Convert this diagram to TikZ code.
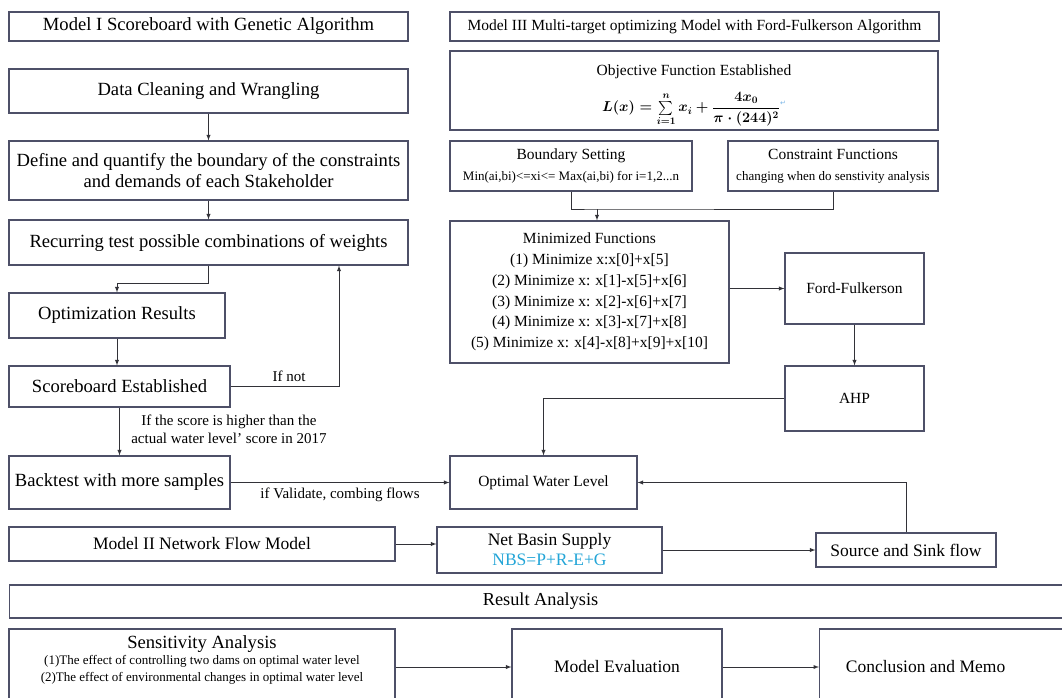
\documentclass[tikz,border=0pt]{standalone}
\usepackage{fontspec}
\setmainfont{Liberation Serif}
\newfontfamily\symfont{DejaVu Sans}
\usepackage{amsmath,amssymb}
\usetikzlibrary{shapes,calc,positioning,arrows}
\definecolor{boxline}{RGB}{78,80,104}
\definecolor{linkline}{RGB}{50,50,56}
\definecolor{nbsblue}{RGB}{35,165,215}
\definecolor{retblue}{RGB}{120,180,230}
\newcommand{\sml}{\fontsize{13}{17}\selectfont}

\begin{document}
\begin{tikzpicture}[x=1pt,y=-1pt,>=latex,
  box/.style={draw=boxline,line width=1.1pt,align=center,inner sep=0pt},
  big/.style={font=\fontsize{18.6}{20.5}\selectfont},
  mid/.style={font=\fontsize{15.5}{20.7}\selectfont},
  note/.style={font=\fontsize{15}{17.5}\selectfont},
  link/.style={draw=linkline,line width=0.9pt}]
\useasboundingbox (0,0) rectangle (1062,698);
\clip (0,0) rectangle (1062,698);

% Model I column
\node[box,big,minimum width=399pt,minimum height=29pt] (modelI) at (208.5,26.5) {Model I Scoreboard with Genetic Algorithm};
\node[box,big,minimum width=399pt,minimum height=44pt] (clean) at (208.5,91) {Data Cleaning and Wrangling};
\node[box,big,minimum width=399pt,minimum height=59pt] (define) at (208.5,170.5) {Define and quantify the boundary of the constraints\\and demands of each Stakeholder};
\node[box,big,minimum width=399pt,minimum height=45pt] (recur) at (208.5,242.5) {Recurring test possible combinations of weights};
\node[box,big,minimum width=216pt,minimum height=45pt] (optres) at (117,315.5) {Optimization Results};
\node[box,big,minimum width=221pt,minimum height=41pt] (score) at (119.5,386.5) {Scoreboard Established};
\node[box,big,minimum width=221pt,minimum height=53pt] (back) at (119.5,482.5) {Backtest with more samples};

% Model III column
\node[box,mid,minimum width=489pt,minimum height=29pt] (modelIII) at (694.5,26.5) {Model III Multi-target optimizing Model with Ford-Fulkerson Algorithm};
\node[box,mid,minimum width=488pt,minimum height=79pt] (objfun) at (694,90.5) {\rule{0pt}{21pt}Objective Function Established\\[12pt]
  {\fontsize{14}{16}\selectfont\boldmath $L(x)=\sum\limits_{i=1}^{n} x_i+\dfrac{4x_0}{\pi\cdot(244)^2}$}{\symfont\fontsize{7}{7}\selectfont\color{retblue}\raisebox{6pt}{↵}}};
\node[box,mid,minimum width=242pt,minimum height=50pt] (bound) at (571,166) {Boundary Setting\\{\sml Min(ai,bi)<=xi<= Max(ai,bi) for i=1,2...n}};
\node[box,mid,minimum width=210pt,minimum height=50pt] (constr) at (833,166) {Constraint Functions\\{\sml changing when do senstivity analysis}};
\node[box,mid,minimum width=279pt,minimum height=142pt] (minfun) at (589.5,292) {Minimized Functions\\(1) Minimize x:x[0]+x[5]\\(2) Minimize x: x[1]-x[5]+x[6]\\(3) Minimize x: x[2]-x[6]+x[7]\\(4) Minimize x: x[3]-x[7]+x[8]\\(5) Minimize x: x[4]-x[8]+x[9]+x[10]};
\node[box,mid,minimum width=139pt,minimum height=71pt] (ford) at (854.5,288.5) {Ford-Fulkerson};
\node[box,mid,minimum width=139pt,minimum height=65pt] (ahp) at (854.5,398.5) {AHP};
\node[box,mid,minimum width=187pt,minimum height=53pt] (owl) at (543.5,482.5) {Optimal Water Level};

% Model II and flows
\node[box,font=\fontsize{17.5}{20}\selectfont,minimum width=386pt,minimum height=34pt] (modelII) at (202,544) {Model II Network Flow Model};
\node[box,font=\fontsize{17.5}{20}\selectfont,minimum width=225pt,minimum height=46pt] (nbs) at (549.5,550) {Net Basin Supply\\{\color{nbsblue}NBS=P+R-E+G}};
\node[box,font=\fontsize{17.5}{20}\selectfont,minimum width=180pt,minimum height=34pt] (sink) at (906,550) {Source and Sink flow};

% Result analysis row
\node[box,font=\fontsize{18.3}{20}\selectfont,anchor=west,minimum height=33pt] (result) at (9,601.5) {\makebox[1062pt]{Result Analysis}\hspace{20pt}};
\node[box,font=\fontsize{13}{16.5}\selectfont,minimum width=386pt,minimum height=76pt] (sens) at (202,667) {{\fontsize{18.6}{20}\selectfont Sensitivity Analysis}\\(1)The effect of controlling two dams on optimal water level\\(2)The effect of environmental changes in optimal water level\\\rule{0pt}{14pt}};
\node[box,font=\fontsize{17.5}{20}\selectfont,minimum width=210pt,minimum height=76pt] (evalm) at (617,667) {Model Evaluation};
\node[box,font=\fontsize{17.5}{20}\selectfont,anchor=west,minimum height=76pt] (memo) at (819,667) {\makebox[212pt]{Conclusion and Memo}\hspace{60pt}};

% Connectors of Model I
\draw[link,->] (clean) -- (define);
\draw[link,->] (define) -- (recur);
\draw[link,->] (recur.south) -- ++(0,18) -| (optres.north);
\draw[link,->] (optres.south) -- (optres.south |- score.north);
\draw[link,->] (score.east) -| ([xshift=130.5pt]recur.south) node[note,pos=0.27,above=1pt] {If not};
\draw[link,->] (score) -- (back) node[note,midway,right=8pt,yshift=2pt,align=center] {If the score is higher than the\\actual water level' score in 2017};
\draw[link,->] (back) -- (owl) node[note,midway,below=2pt] {if Validate, combing flows};

% Connectors of Model III
\coordinate (join) at (597,209);
\draw[link] (bound.south) |- (join) -| (constr.south);
\draw[link,->] (join) -- (join |- minfun.north);
\draw[link,->] (minfun.east |- ford.west) -- (ford.west);
\draw[link,->] (ford) -- (ahp);
\draw[link,->] (ahp.west) -| (owl.north);
\draw[link,->] (sink.north) |- (owl.east);

% Connectors of Model II and results
\draw[link,->] (modelII.east) -- (modelII.east -| nbs.west);
\draw[link,->] (nbs) -- (sink);
\draw[link,->] (sens.east) -- (sens.east -| evalm.west);
\draw[link,->] (evalm) -- (memo);
\end{tikzpicture}
\end{document}
